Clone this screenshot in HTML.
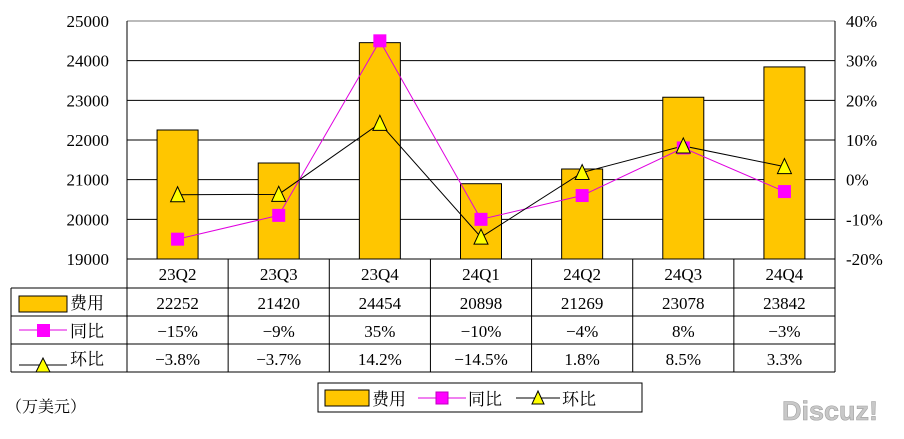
<!DOCTYPE html>
<html><head><meta charset="utf-8"><style>
body{margin:0;background:#fff;}
svg text{font-family:"Liberation Serif","Noto Serif CJK SC","Noto Sans CJK SC",serif;}
</style></head><body>
<svg width="904" height="434" viewBox="0 0 904 434" xmlns="http://www.w3.org/2000/svg">
<g id="grid"></g>
<g id="bars"></g>
<g id="lines"></g>
<g id="axes"></g>
<g id="table"></g>
<g>
<rect x="318" y="383" width="324" height="29" fill="#fff" stroke="#000" stroke-width="1"/>
<rect x="325" y="390" width="44" height="16" fill="#FFC600" stroke="#000"/>
<text x="372" y="405" font-size="17">费用</text>
<line x1="418" y1="398" x2="466" y2="398" stroke="#e000e0"/>
<rect x="436" y="392" width="12" height="12" fill="#ff00ff" stroke="#c000c0"/>
<text x="468" y="405" font-size="17">同比</text>
<line x1="516" y1="398" x2="560" y2="398" stroke="#000"/>
<polygon points="538,391 532,404 544,404" fill="#ffff00" stroke="#000"/>
<text x="562" y="405" font-size="17">环比</text>
</g>
<text x="6" y="412" font-size="16">（万美元）</text>
<text x="782" y="420" font-size="27" font-weight="bold" fill="#c8c8c8" stroke="#a0a0a0" stroke-width="0.6" font-family="Liberation Sans, sans-serif" style="font-family:'Liberation Sans',sans-serif">Discuz!</text>
</svg>
<script>
const categories=["23Q2","23Q3","23Q4","24Q1","24Q2","24Q3","24Q4"];
const expense=[22252,21420,24454,20898,21269,23078,23842];
const yoy=[-15,-9,35,-10,-4,8,-3];
const qoq=[-3.8,-3.7,14.2,-14.5,1.8,8.5,3.3];
const yoyLabels=["-15%","-9%","35%","-10%","-4%","8%","-3%"];
const qoqLabels=["-3.8%","-3.7%","14.2%","-14.5%","1.8%","8.5%","3.3%"];
const leftTicks=[19000,20000,21000,22000,23000,24000,25000];
const rightTicks=[-20,-10,0,10,20,30,40];
const NS="http://www.w3.org/2000/svg";
const X0=127,X1=835,Y0=21,Y1=259;
const bw=(X1-X0)/categories.length;
const xc=i=>X0+bw*(i+0.5);
const yl=v=>Y1-(v-19000)/6000*(Y1-Y0);
const yr=v=>Y1-(v+20)/60*(Y1-Y0);
function mk(p,t,a){const e=document.createElementNS(NS,t);for(const k in a)e.setAttribute(k,a[k]);p.appendChild(e);return e;}
const grid=document.getElementById('grid'),bars=document.getElementById('bars'),lines=document.getElementById('lines'),axes=document.getElementById('axes'),table=document.getElementById('table');
leftTicks.forEach((t,i)=>{
 const l=mk(grid,'line',{x1:X0,x2:X1,y1:yl(t),y2:yl(t),stroke:i==leftTicks.length-1?'#777':'#000','stroke-width':1});
 
 
 const tx=mk(axes,'text',{x:109,y:yl(t)+6,'font-size':17,'text-anchor':'end'});tx.textContent=t;
 
 
});
rightTicks.forEach(t=>{
 const tx=mk(axes,'text',{x:846,y:yr(t)+6,'font-size':17});tx.textContent=t+'%';
 
 
});
mk(axes,'line',{x1:X0,x2:X0,y1:Y0,y2:Y1,stroke:'#000'});
mk(axes,'line',{x1:X1,x2:X1,y1:Y0,y2:Y1,stroke:'#000'});
expense.forEach((v,i)=>{
 const r=mk(bars,'rect',{x:xc(i)-20.5,y:yl(v),width:41,height:Y1-yl(v),fill:'#FFC600',stroke:'#000','stroke-width':1});
 
 
});
const pl1=mk(lines,'polyline',{points:yoy.map((v,i)=>xc(i)+','+yr(v)).join(' '),fill:'none',stroke:'#e000e0','stroke-width':1});


const pl2=mk(lines,'polyline',{points:qoq.map((v,i)=>xc(i)+','+yr(v)).join(' '),fill:'none',stroke:'#000','stroke-width':1});


yoy.forEach((v,i)=>{
 const r=mk(lines,'rect',{x:xc(i)-6.5,y:yr(v)-6.5,width:13,height:13,fill:'#ff00ff'});
 
 
});
qoq.forEach((v,i)=>{
 const x=xc(i),y=yr(v);
 const p=mk(lines,'polygon',{points:`${x},${y-8} ${x-7},${y+7} ${x+7},${y+7}`,fill:'#ffff00',stroke:'#000','stroke-width':1});
 
 
});
// table
const rows=[259,288,316,344,372];
mk(table,'line',{x1:11,x2:X1,y1:288,y2:288,stroke:'#000'});
mk(table,'line',{x1:11,x2:X1,y1:316,y2:316,stroke:'#000'});
mk(table,'line',{x1:11,x2:X1,y1:344,y2:344,stroke:'#000'});
mk(table,'line',{x1:11,x2:X1,y1:372,y2:372,stroke:'#000'});
mk(table,'line',{x1:11,x2:11,y1:288,y2:372,stroke:'#000'});
for(let i=0;i<=categories.length;i++)mk(table,'line',{x1:X0+bw*i,x2:X0+bw*i,y1:259,y2:372,stroke:'#000'});
const rowData=[categories,expense,yoyLabels,qoqLabels];
rowData.forEach((arr,r)=>{arr.forEach((v,i)=>{
 const t=mk(table,'text',{x:xc(i),y:rows[r]+21,'font-size':17,'text-anchor':'middle'});t.textContent=String(v).replace(/-/g,'−');
 
 
});});
mk(table,'rect',{x:19,y:296,width:48,height:16,fill:'#FFC600',stroke:'#000'});
mk(table,'line',{x1:19,x2:67,y1:330,y2:330,stroke:'#e000e0'});
mk(table,'rect',{x:37,y:324,width:13,height:13,fill:'#ff00ff'});
mk(table,'line',{x1:19,x2:67,y1:365,y2:365,stroke:'#000'});
mk(table,'polygon',{points:'43,358 36,372 50,372',fill:'#ffff00',stroke:'#000'});
[["费用",309],["同比",337],["环比",365]].forEach(([s,y])=>{const t=mk(table,'text',{x:70,y:y,'font-size':17});t.textContent=s;
 
 });
</script>
</body></html>
